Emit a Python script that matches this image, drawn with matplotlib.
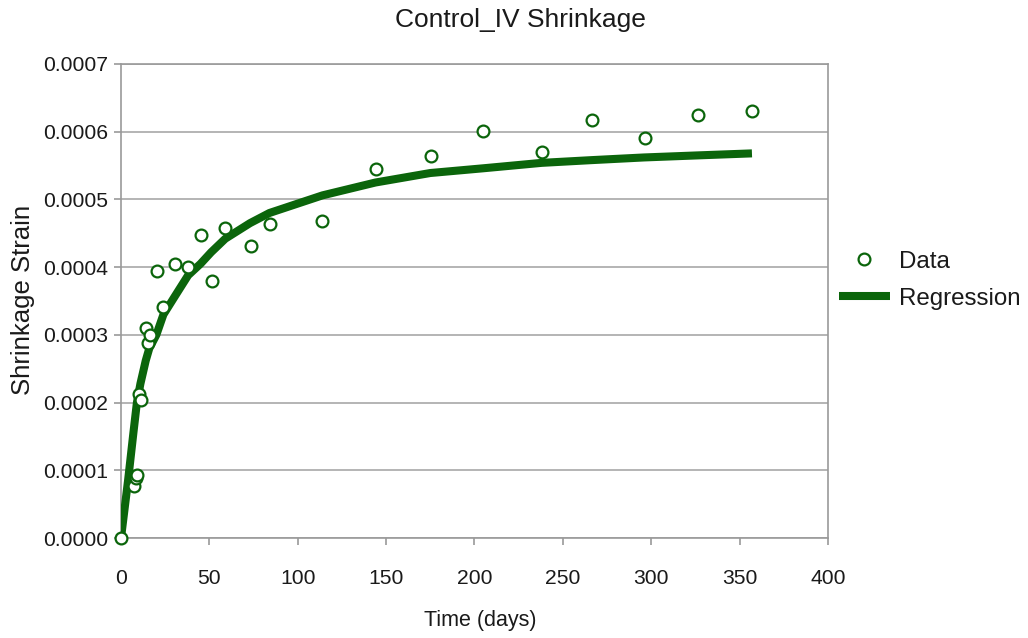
import matplotlib
matplotlib.use('Agg')
import matplotlib.pyplot as plt

# measured shrinkage data (days, strain)
days = [0, 7.4, 8.6, 9.2, 10.2, 11.3, 14.1, 15.3, 16.4, 20.4, 23.8, 30.6,
        37.9, 45.3, 51.5, 58.8, 73.5, 84.3, 113.7, 144.3, 175.4, 204.8,
        238.2, 266.5, 296.5, 326.4, 357.0]
strain = [0.0, 0.0000768, 0.0000886, 0.0000925, 0.000213, 0.000204, 0.000310,
          0.000288, 0.000300, 0.000394, 0.000341, 0.000405, 0.000400,
          0.000448, 0.000380, 0.000458, 0.000431, 0.000464, 0.000468,
          0.000545, 0.000564, 0.000601, 0.000570, 0.000617, 0.000591,
          0.000625, 0.000631]

# regression curve
reg_days = [0, 4, 7, 9, 11, 14, 16, 20, 24, 30, 38, 45, 51, 59, 73, 84,
            114, 144, 175, 205, 238, 266, 296, 326, 357]
reg_strain = [0.0, 0.000085, 0.000155, 0.000200, 0.000228, 0.000262,
              0.000280, 0.000300, 0.000330, 0.000355, 0.000388, 0.000405,
              0.000422, 0.000442, 0.000465, 0.000480, 0.000506, 0.000525,
              0.000539, 0.000546, 0.000554, 0.000558, 0.000562, 0.000565,
              0.000568]

green = '#0b650b'
plt.rcParams['font.family'] = ['Liberation Sans', 'DejaVu Sans']

fig = plt.figure(figsize=(10.28, 6.38), dpi=100)
ax = fig.add_axes([0.1177, 0.1567, 0.6877, 0.743])

ax.plot(reg_days, reg_strain, '-', color=green, linewidth=5.8,
        solid_capstyle='butt', label='Regression', zorder=3)
ax.plot(days, strain, 'o', markersize=8.5, markerfacecolor='white',
        markeredgecolor=green, markeredgewidth=1.6, label='Data', zorder=4,
        clip_on=False)

ax.set_xlim(0, 400)
ax.set_ylim(0, 0.0007)
ax.set_xticks(range(0, 401, 50))
ax.set_yticks([i * 0.0001 for i in range(8)])
ax.set_yticklabels(['%.4f' % (i * 0.0001) for i in range(8)])
ax.yaxis.grid(True, color='#a8a8a8', linewidth=1.2)
ax.set_axisbelow(True)
for s in ax.spines.values():
    s.set_color('#9a9a9a')
    s.set_linewidth(1.2)
ax.tick_params(colors='#9a9a9a', labelcolor='#1a1a1a', labelsize=15.2,
               length=5, width=1.2)
ax.tick_params(axis='x', pad=17)
ax.tick_params(axis='y', pad=4)

fig.text(0.506, 0.968, 'Control_IV Shrinkage', ha='center', va='center',
         fontsize=19, color='#1a1a1a')
fig.text(0.467, 0.028, 'Time (days)', ha='center', va='center',
         fontsize=15.5, color='#1a1a1a')
fig.text(0.022, 0.53, 'Shrinkage Strain', ha='center', va='center',
         rotation=90, fontsize=18.5, color='#1a1a1a')

h, l = ax.get_legend_handles_labels()
fig.legend([h[1], h[0]], [l[1], l[0]], loc='upper left',
           bbox_to_anchor=(0.795, 0.641), frameon=False, fontsize=17.4,
           handlelength=2.1, handletextpad=0.4, labelspacing=0.62,
           labelcolor='#1a1a1a')

fig.savefig('out.png', dpi=100)
